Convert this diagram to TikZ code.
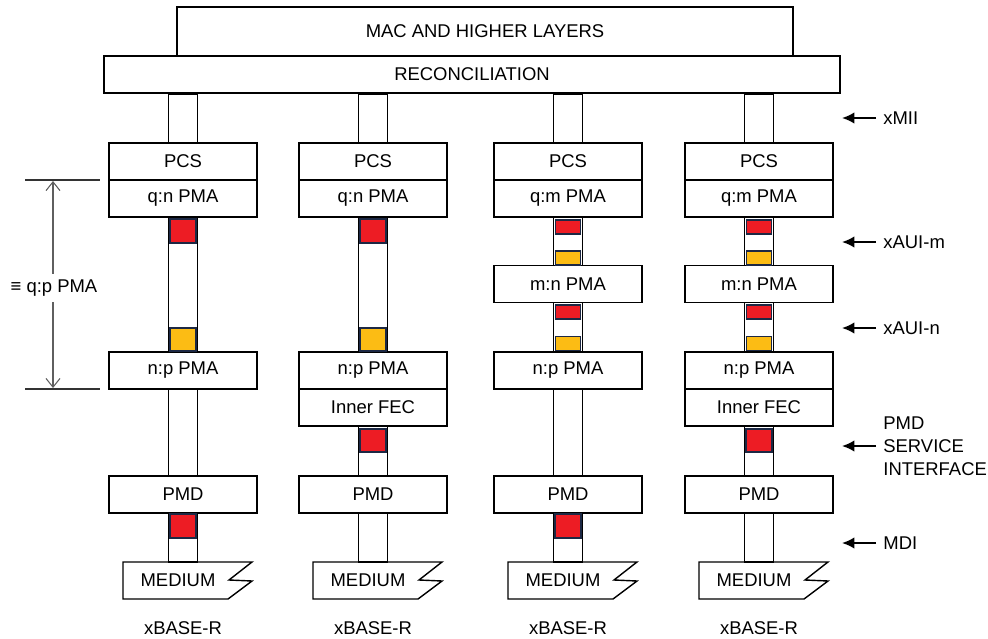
\documentclass[tikz,border=0pt]{standalone}
\usepackage{fontspec}
\setmainfont{Liberation Sans}
\usepackage{xcolor}
\usepackage{tikz}
\usetikzlibrary{arrows.meta, positioning, calc, backgrounds}
\definecolor{sqred}{RGB}{237,28,36}
\definecolor{sqyellow}{RGB}{252,188,20}
\definecolor{sqedge}{RGB}{28,40,68}
\definecolor{dimgray}{RGB}{95,95,95}

\begin{document}
\begin{tikzpicture}[
    x=0.02cm, y=-0.02cm,
    font=\fontsize{10.5}{12}\selectfont,
    blk/.style={draw, fill=white, line width=1pt, minimum width=2.96cm,
                minimum height=0.74cm, inner sep=0pt},
    medtxt/.style={minimum height=0.74cm, inner sep=0pt},
    medline/.style={line width=0.8pt},
    bus/.style={draw, fill=white, line width=1pt},
    redsq/.style={draw=sqedge, fill=sqred, line width=1pt,
                  minimum width=0.52cm, minimum height=0.47cm, inner sep=0pt},
    yelsq/.style={redsq, fill=sqyellow},
    redbar/.style={redsq, minimum width=0.5cm, minimum height=0.28cm},
    yelbar/.style={redbar, fill=sqyellow},
    dimln/.style={line width=0.6pt, black!80},
    dimarr/.style={-{Straight Barb[length=5pt, width=8pt]}, line width=0.6pt, dimgray},
    iflbl/.style={anchor=west, inner sep=4pt, align=left},
    ifarr/.style={-{Latex[length=7pt, width=6.5pt]}, line width=1.1pt},
  ]
    \useasboundingbox (0,0) rectangle (988,639);

    % Top layers
    \node[blk, minimum width=12.32cm, minimum height=0.98cm] (mac) at (485,31.5) {MAC AND HIGHER LAYERS};
    \node[blk, minimum width=14.72cm] (rec) at (472,74.5) {RECONCILIATION};

    % Column 1
    \node[blk] (pcs1) at (183,161.5) {PCS};
    \node[blk] (qn1)  at (183,198.5) {q:n PMA};
    \node[blk] (np1)  at (183,370.5) {n:p PMA};
    \node[blk] (pmd1) at (183,494.5) {PMD};
    \node[medtxt] (med1) at (178,580.5) {MEDIUM};
    \node[redsq] (r1a) at (183,231) {};
    \node[yelsq] (y1a) at (183,339.5) {};
    \node[redsq] (r1b) at (183,526) {};
    \node (base1) at (183,628) {xBASE-R};

    % Column 2
    \node[blk] (pcs2) at (373,161.5) {PCS};
    \node[blk] (qn2)  at (373,198.5) {q:n PMA};
    \node[blk] (np2)  at (373,370.5) {n:p PMA};
    \node[blk] (fec2) at (373,407.5) {Inner FEC};
    \node[blk] (pmd2) at (373,494.5) {PMD};
    \node[medtxt] (med2) at (368,580.5) {MEDIUM};
    \node[redsq] (r2a) at (373,231) {};
    \node[yelsq] (y2a) at (373,339.5) {};
    \node[redsq] (r2b) at (373,440.5) {};
    \node (base2) at (373,628) {xBASE-R};

    % Column 3
    \node[blk] (pcs3) at (568,161.5) {PCS};
    \node[blk] (qm3)  at (568,198.5) {q:m PMA};
    \node[blk] (mn3)  at (568,284) {m:n PMA};
    \node[blk] (np3)  at (568,370.5) {n:p PMA};
    \node[blk] (pmd3) at (568,494.5) {PMD};
    \node[medtxt] (med3) at (563,580.5) {MEDIUM};
    \node[redbar] (r3a) at (568,227) {};
    \node[yelbar] (y3a) at (568,258) {};
    \node[redbar] (r3b) at (568,312) {};
    \node[yelbar] (y3b) at (568,343.5) {};
    \node[redsq] (r3c) at (568,526) {};
    \node (base3) at (568,628) {xBASE-R};

    % Column 4
    \node[blk] (pcs4) at (759,161.5) {PCS};
    \node[blk] (qm4)  at (759,198.5) {q:m PMA};
    \node[blk] (mn4)  at (759,284) {m:n PMA};
    \node[blk] (np4)  at (759,370.5) {n:p PMA};
    \node[blk] (fec4) at (759,407.5) {Inner FEC};
    \node[blk] (pmd4) at (759,494.5) {PMD};
    \node[medtxt] (med4) at (754,580.5) {MEDIUM};
    \node[redbar] (r4a) at (759,227) {};
    \node[yelbar] (y4a) at (759,258) {};
    \node[redbar] (r4b) at (759,312) {};
    \node[yelbar] (y4b) at (759,343.5) {};
    \node[redsq] (r4c) at (759,440.5) {};
    \node (base4) at (759,628) {xBASE-R};

    % Buses behind the boxes
    \begin{scope}[on background layer]
      \foreach \c in {1,...,4}
        \draw[bus] ($(pcs\c.center |- rec.south)+(-14.5,0)$) rectangle ($(pcs\c.center |- med\c.north)+(14.5,0)$);
    \end{scope}

    % Medium outlines
    \foreach \c in {1,...,4}
      \draw[medline, shift={(med\c.center)}] (-55,-18.5) -- (74,-18.5) -- (51,-0.5)
        -- (74,0.5) -- (50,18.5) -- (-55,18.5) -- cycle;

    % q:p PMA span
    \coordinate (dimtl) at (25,180);
    \coordinate (dimtr) at (100,180);
    \coordinate (dimbl) at (25,389);
    \coordinate (dimbr) at (100,389);
    \coordinate (qptop) at (53,181);
    \coordinate (qpbot) at (53,388);
    \draw[dimln] (dimtl) -- (dimtr);
    \draw[dimln] (dimbl) -- (dimbr);
    \node (qp) at (54,288) {≡ q:p PMA};
    \draw[dimarr] (qp.north -| qptop) -- (qptop);
    \draw[dimarr] (qp.south -| qpbot) -- (qpbot);

    % Interface labels
    \node[iflbl] (xmii) at (876,118) {xMII};
    \node[iflbl] (xauim) at (876,242) {xAUI-m};
    \node[iflbl] (xauin) at (876,328) {xAUI-n};
    \node[iflbl, font=\fontsize{10.5}{13}\selectfont] (pmdsi) at (876,446) {PMD\\SERVICE\\INTERFACE};
    \node[iflbl] (mdi) at (876,543) {MDI};
    \coordinate (xmiiend) at (842,118);
    \coordinate (xauimend) at (842,242);
    \coordinate (xauinend) at (842,328);
    \coordinate (pmdsiend) at (842,446);
    \coordinate (mdiend) at (842,543);
    \draw[ifarr] (xmii.west) -- (xmiiend);
    \draw[ifarr] (xauim.west) -- (xauimend);
    \draw[ifarr] (xauin.west) -- (xauinend);
    \draw[ifarr] (pmdsi.west) -- (pmdsiend);
    \draw[ifarr] (mdi.west) -- (mdiend);
\end{tikzpicture}
\end{document}
